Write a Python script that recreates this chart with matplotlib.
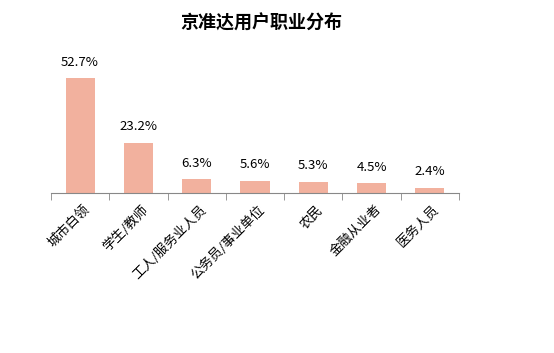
import matplotlib
matplotlib.use("Agg")
import matplotlib.pyplot as plt
import numpy as np

plt.rcParams['font.family'] = ['Noto Sans CJK SC', 'DejaVu Sans']

categories = ["城市白领", "学生/教师", "工人/服务业人员", "公务员/事业单位", "农民", "金融从业者", "医务人员"]
shares = [52.7, 23.2, 6.3, 5.6, 5.3, 4.5, 2.4]
labels = ["52.7%", "23.2%", "6.3%", "5.6%", "5.3%", "4.5%", "2.4%"]

fig = plt.figure(figsize=(5.54, 3.53), dpi=100)
ax = fig.add_axes([0.092, 0.453, 0.7365, 0.37])

x = np.arange(len(categories))
ax.bar(x, shares, width=0.5, color="#F2B19E")
for xi, v, lab in zip(x, shares, labels):
    ax.annotate(lab, (xi, v), xytext=(0, 7), textcoords="offset points",
                ha="center", va="bottom", fontsize=9.5)

ax.set_xlim(-0.5, len(categories) - 0.5)
ax.set_ylim(0, 60)
ax.set_yticks([])
for s in ["top", "right", "left"]:
    ax.spines[s].set_visible(False)
ax.spines["bottom"].set_color("#888888")

ax.set_xticks(x + 0.05)
ax.set_xticklabels(categories, rotation=45, ha="right", rotation_mode="anchor", fontsize=9.5)
ax.tick_params(axis="x", which="major", length=0, pad=7)
ax.set_xticks(np.arange(-0.5, len(categories)), minor=True)
ax.tick_params(axis="x", which="minor", length=5, color="#888888")

fig.text(0.472, 0.935, "京准达用户职业分布", ha="center", va="center", fontsize=13, fontweight="bold")

fig.savefig("out.png", dpi=100)
